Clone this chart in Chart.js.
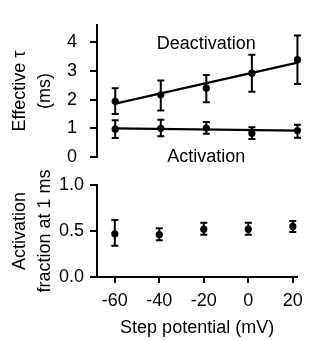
<!DOCTYPE html>
<html>
<head>
<meta charset="utf-8">
<script src="https://cdn.jsdelivr.net/npm/chart.js@4.4.0/dist/chart.umd.min.js"></script>
<style>
  html, body { margin: 0; padding: 0; background: #fff; }
  #wrap { position: relative; width: 310px; height: 340px; }
  canvas { position: absolute; left: 0; }
  #topChart { top: 0; }
  #botChart { top: 170px; }
</style>
</head>
<body>
<div id="wrap">
  <canvas id="topChart" width="310" height="170"></canvas>
  <canvas id="botChart" width="310" height="170"></canvas>
</div>
<script>
// step potentials (mV)
const steps = [-60, -40, -20, 0, 20];
const xTicks = [-60, -40, -20, 0, 20];

// effective tau (ms)
const deact   = [1.94, 2.17, 2.40, 2.92, 3.39];
const deactLo = [1.50, 1.62, 1.91, 2.27, 2.54];
const deactHi = [2.40, 2.67, 2.86, 3.56, 4.23];
const act     = [0.97, 1.00, 1.01, 0.83, 0.92];
const actLo   = [0.66, 0.72, 0.81, 0.63, 0.67];
const actHi   = [1.28, 1.30, 1.22, 1.04, 1.12];
const fitX     = [-60, 20];
const deactFit = [1.86, 3.29];
const actFit   = [1.00, 0.92];
const tauTicks = [0, 1, 2, 3, 4];

// activation fraction at 1 ms
const frac   = [0.47, 0.46, 0.52, 0.52, 0.55];
const fracLo = [0.34, 0.40, 0.46, 0.46, 0.49];
const fracHi = [0.62, 0.53, 0.59, 0.59, 0.61];
const fracTicks = [0, 0.5, 1.0];

const FAMILY = '"Liberation Sans", Arial, Helvetica, sans-serif';
const FS = 18;
Chart.defaults.font.family = FAMILY;
Chart.defaults.font.size = FS;
Chart.defaults.color = '#000';

const pts = (xs, ys) => xs.map((x, i) => ({ x, y: ys[i] }));

const errorBars = {
  id: 'errorBars',
  afterDatasetsDraw(chart) {
    const { ctx, scales: { x, y } } = chart;
    ctx.save();
    ctx.strokeStyle = '#000';
    ctx.lineWidth = 2;
    chart.data.datasets.forEach(ds => {
      if (!ds.lo) return;
      ds.data.forEach((p, i) => {
        const px = x.getPixelForValue(p.x);
        const y1 = y.getPixelForValue(ds.lo[i]);
        const y2 = y.getPixelForValue(ds.hi[i]);
        ctx.beginPath();
        ctx.moveTo(px, y1); ctx.lineTo(px, y2);
        ctx.moveTo(px - 3.5, y1); ctx.lineTo(px + 3.5, y1);
        ctx.moveTo(px - 3.5, y2); ctx.lineTo(px + 3.5, y2);
        ctx.stroke();
      });
    });
    ctx.restore();
  }
};

const seriesLabels = {
  id: 'seriesLabels',
  afterDatasetsDraw(chart) {
    const { ctx, scales: { x, y } } = chart;
    ctx.save();
    ctx.fillStyle = '#000';
    ctx.font = FS + 'px ' + FAMILY;
    ctx.textAlign = 'center';
    ctx.textBaseline = 'middle';
    ctx.fillText('Deactivation', x.getPixelForValue(-20), y.getPixelForValue(3.93));
    ctx.fillText('Activation', x.getPixelForValue(-20), y.getPixelForValue(0));
    ctx.restore();
  }
};

function yAxis(min, max, ticks, title, pad) {
  return {
    type: 'linear', min, max,
    afterBuildTicks: s => { s.ticks = ticks.map(v => ({ value: v })); },
    afterFit: s => { s.width = 97; s.paddingTop = 0; s.paddingBottom = 0; },
    grid: { drawOnChartArea: false, color: '#000', lineWidth: 2, tickLength: 7 },
    border: { color: '#000', width: 2 },
    ticks: {
      color: '#000', padding: pad,
      callback: v => (max === 1 ? v.toFixed(1) : String(v))
    },
    title: {
      display: true, text: title, color: '#000',
      font: { size: FS, lineHeight: 1.4 }, padding: { top: 7, bottom: 0 }
    }
  };
}

function scatterSet(xs, ys, lo, hi) {
  return {
    data: pts(xs, ys), lo, hi,
    showLine: false, pointRadius: 3.6, pointHoverRadius: 3.6,
    pointBackgroundColor: '#000', pointBorderWidth: 0, clip: false
  };
}

function fitSet(xs, ys) {
  return {
    data: pts(xs, ys), showLine: true, borderColor: '#000', borderWidth: 2.2,
    pointRadius: 0, clip: false
  };
}

new Chart(document.getElementById('topChart'), {
  type: 'scatter',
  data: {
    datasets: [
      fitSet(fitX, deactFit),
      fitSet(fitX, actFit),
      scatterSet(steps, deact, deactLo, deactHi),
      scatterSet(steps, act, actLo, actHi)
    ]
  },
  options: {
    responsive: false, animation: false,
    layout: { padding: { top: 25, bottom: 13, right: 8, left: 0 } },
    plugins: { legend: { display: false }, tooltip: { enabled: false } },
    scales: {
      x: { type: 'linear', min: -68, max: 22, display: false },
      y: yAxis(0, 4.6, tauTicks, ['Effective τ', '(ms)'], 13)
    }
  },
  plugins: [errorBars, seriesLabels]
});

new Chart(document.getElementById('botChart'), {
  type: 'scatter',
  data: {
    datasets: [scatterSet(steps, frac, fracLo, fracHi)]
  },
  options: {
    responsive: false, animation: false,
    layout: { padding: { top: 15, bottom: 0, right: 8, left: 0 } },
    plugins: { legend: { display: false }, tooltip: { enabled: false } },
    scales: {
      x: {
        type: 'linear', min: -68, max: 22,
        afterBuildTicks: s => { s.ticks = xTicks.map(v => ({ value: v })); },
        afterFit: s => { s.height = 63; },
        grid: { drawOnChartArea: false, color: '#000', lineWidth: 2, tickLength: 6 },
        border: { color: '#000', width: 2 },
        ticks: { color: '#000', padding: 7, maxRotation: 0 },
        title: {
          display: true, text: 'Step potential (mV)', color: '#000',
          font: { size: FS }, padding: { top: 0, bottom: 1 }
        }
      },
      y: yAxis(0, 1, fracTicks, ['Activation', 'fraction at 1 ms'], 6)
    }
  },
  plugins: [errorBars]
});
</script>
</body>
</html>
